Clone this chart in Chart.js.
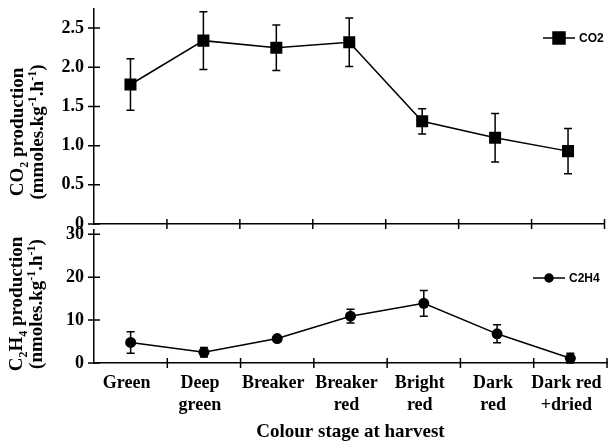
<!DOCTYPE html>
<html>
<head>
<meta charset="utf-8">
<script src="https://cdn.jsdelivr.net/npm/chart.js@4"></script>
<style>
  body { margin: 0; background: #fff; }
  #wrap { position: relative; width: 613px; height: 448px; }
  canvas { position: absolute; left: 0; top: 0; }
  .ytitle {
    position: absolute; width: 220px; height: 42px;
    font: bold 19px "Liberation Serif", serif; line-height: 20px;
    text-align: center; transform: rotate(-90deg); color: #000; white-space: nowrap;
  }
  .ytitle sub, .ytitle sup { font-size: 12px; line-height: 0; }
</style>
</head>
<body>
<div id="wrap">
  <canvas id="co2Chart" width="613" height="448"></canvas>
  <canvas id="c2h4Chart" width="613" height="448"></canvas>
  <div class="ytitle" style="left:-82px; top:111px;">CO<sub>2</sub> production<br>(mmoles.kg<sup>-1</sup>.h<sup>-1</sup>)</div>
  <div class="ytitle" style="left:-83px; top:283px;">C<sub>2</sub>H<sub>4</sub> production<br>(nmoles.kg<sup>-1</sup>.h<sup>-1</sup>)</div>
</div>
<script>
const stages = [['Green'], ['Deep', 'green'], ['Breaker'], ['Breaker', 'red'], ['Bright', 'red'], ['Dark', 'red'], ['Dark red', '+dried']];
const co2Values = [1.78, 2.34, 2.25, 2.32, 1.31, 1.10, 0.93];
const co2Errors = [0.33, 0.37, 0.29, 0.31, 0.16, 0.31, 0.29];
const c2h4Values = [4.8, 2.5, 5.7, 10.9, 13.9, 6.8, 1.1];
const c2h4Errors = [2.5, 1.1, 0.4, 1.6, 3.0, 2.1, 1.2];
const co2Ticks = [0, 0.5, 1, 1.5, 2, 2.5];
const c2h4Ticks = [0, 10, 20, 30];

const serif = 'Liberation Serif';

// error bars + crossing tick marks + inline legend
function makePlugin(errors, legend) {
    return {
        id: 'extras',
        beforeDatasetsDraw(chart) {
            const ctx = chart.ctx;
            const meta = chart.getDatasetMeta(0);
            const vals = chart.data.datasets[0].data;
            const ys = chart.scales.y;
            ctx.save();
            ctx.strokeStyle = '#000';
            ctx.lineWidth = 1.5;
            meta.data.forEach((pt, i) => {
                const top = ys.getPixelForValue(vals[i] + errors[i]);
                const bot = ys.getPixelForValue(Math.max(0, vals[i] - errors[i]));
                ctx.beginPath();
                ctx.moveTo(pt.x, top); ctx.lineTo(pt.x, bot);
                ctx.moveTo(pt.x - 4, top); ctx.lineTo(pt.x + 4, top);
                ctx.moveTo(pt.x - 4, bot); ctx.lineTo(pt.x + 4, bot);
                ctx.stroke();
            });
            ctx.restore();
        },
        afterDraw(chart) {
            const ctx = chart.ctx;
            const ys = chart.scales.y;
            const area = chart.chartArea;
            ctx.save();
            ctx.strokeStyle = '#000';
            ctx.lineWidth = 1.5;
            ctx.beginPath();
            ys.ticks.forEach(t => {
                const py = ys.getPixelForValue(t.value);
                ctx.moveTo(area.left - 6, py); ctx.lineTo(area.left + 6, py);
            });
            const n = stages.length;
            for (let i = 1; i <= n; i++) {
                const px = area.left + i * (area.right - area.left) / n;
                ctx.moveTo(px, area.bottom - 5); ctx.lineTo(px, area.bottom + 5);
            }
            ctx.stroke();

            // legend
            ctx.beginPath();
            ctx.moveTo(legend.x0, legend.y); ctx.lineTo(legend.x1, legend.y);
            ctx.stroke();
            ctx.fillStyle = '#000';
            Chart.helpers.drawPoint(ctx, {pointStyle: legend.style, radius: legend.r, borderWidth: 1},
                (legend.x0 + legend.x1) / 2, legend.y);
            ctx.font = 'bold 12px "Liberation Sans", Arial, sans-serif';
            ctx.textBaseline = 'middle';
            ctx.fillText(legend.text, legend.x1 + 4, legend.y + 1);
            ctx.restore();
        }
    };
}

function baseOptions(yMax, yTicks, opts) {
    return {
        responsive: false,
        animation: false,
        layout: { padding: { top: opts.top, right: 6, left: 0, bottom: 0 } },
        plugins: { legend: { display: false }, tooltip: { enabled: false } },
        scales: {
            x: {
                type: 'category',
                offset: true,
                grid: { display: false },
                border: { display: true, color: '#000', width: 1.5 },
                ticks: {
                    display: opts.showLabels,
                    color: '#000',
                    padding: 1,
                    labelOffset: -4,
                    maxRotation: 0,
                    autoSkip: false,
                    font: { family: serif, size: 18, weight: 'bold', lineHeight: 1.22 }
                },
                title: {
                    display: opts.showLabels,
                    text: 'Colour stage at harvest',
                    color: '#000',
                    padding: { top: 0, bottom: 5 },
                    font: { family: serif, size: 19, weight: 'bold' }
                },
                afterFit(s) { s.height = opts.xHeight; s.paddingLeft = 0; s.paddingRight = 0; }
            },
            y: {
                min: 0,
                max: yMax,
                grid: { display: false, drawTicks: false },
                border: { display: true, color: '#000', width: 1.5 },
                afterBuildTicks(s) { s.ticks = yTicks.map(v => ({ value: v })); },
                ticks: {
                    color: '#000',
                    padding: 10,
                    font: { family: serif, size: 18, weight: 'bold' },
                    callback: opts.fmt
                },
                afterFit(s) { s.width = 94; s.paddingTop = 0; s.paddingBottom = 0; }
            }
        }
    };
}

new Chart(document.getElementById('co2Chart'), {
    type: 'line',
    data: {
        labels: stages,
        datasets: [{
            label: 'CO2',
            data: co2Values,
            borderColor: '#000',
            backgroundColor: '#000',
            borderWidth: 1.5,
            tension: 0,
            pointStyle: 'rect',
            pointRadius: 8.5,
            pointBorderWidth: 0
        }]
    },
    options: baseOptions(2.75, co2Ticks, {
        top: 7, xHeight: 224, showLabels: false,
        fmt: v => v === 0 ? '0' : v.toFixed(1)
    }),
    plugins: [makePlugin(co2Errors, { x0: 543, x1: 575, y: 38, style: 'rect', r: 8.5, text: 'CO2' })]
});

new Chart(document.getElementById('c2h4Chart'), {
    type: 'line',
    data: {
        labels: stages,
        datasets: [{
            label: 'C2H4',
            data: c2h4Values,
            borderColor: '#000',
            backgroundColor: '#000',
            borderWidth: 1.5,
            tension: 0,
            pointStyle: 'circle',
            pointRadius: 5.5,
            pointBorderWidth: 0
        }]
    },
    options: baseOptions(31, c2h4Ticks, {
        top: 230, xHeight: 85, showLabels: true,
        fmt: v => String(v)
    }),
    plugins: [makePlugin(c2h4Errors, { x0: 533, x1: 565, y: 278, style: 'circle', r: 4, text: 'C2H4' })]
});
</script>
</body>
</html>
